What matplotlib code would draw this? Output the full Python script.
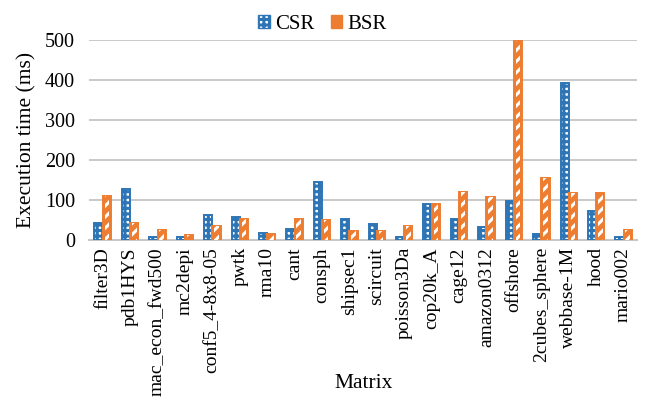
import matplotlib.pyplot as plt
import numpy as np
from matplotlib.patches import Patch

plt.rcParams["font.family"] = ["Liberation Serif", "DejaVu Serif"]
plt.rcParams["hatch.linewidth"] = 2.2

matrices = [
    "filter3D", "pdb1HYS", "mac_econ_fwd500", "mc2depi", "conf5_4-8x8-05",
    "pwtk", "rma10", "cant", "consph", "shipsec1", "scircuit", "poisson3Da",
    "cop20k_A", "cage12", "amazon0312", "offshore", "2cubes_sphere",
    "webbase-1M", "hood", "mario002",
]
csr = [43, 127, 8, 8, 62, 57, 17, 27, 146, 52, 39, 8, 90, 52, 33, 98, 14, 392, 73, 8]
bsr = [110, 42, 25, 12, 36, 52, 14, 52, 49, 22, 22, 36, 90, 119, 108, 497, 154, 117, 117, 25]

blue = "#2E75B6"
orange = "#ED7D31"

fig = plt.figure(figsize=(6.45, 4.09), dpi=100)
ax = fig.add_axes([0.138, 0.413, 0.850, 0.489])

x = np.arange(len(matrices))
w = 0.3

# CSR: blue ladder with white squares
ax.bar(x - w / 2, csr, w, facecolor="white", edgecolor=blue, hatch="+++",
       linewidth=1.4, zorder=3)
# BSR: orange with white diagonal dashes
ax.bar(x + w / 2, bsr, w, facecolor=orange, edgecolor=orange, linewidth=1.4, zorder=3)
ax.bar(x + w / 2, bsr, w * 0.55, facecolor="none", edgecolor="white", hatch="///",
       linewidth=0, zorder=4)

ax.set_ylim(0, 500)
ax.set_xlim(-0.5, len(matrices) - 0.5)
ax.set_yticks([0, 100, 200, 300, 400, 500])
ax.yaxis.grid(True, color="#C0C0C0", linewidth=1.2, zorder=0)
ax.set_axisbelow(True)
for s in ["top", "right", "left"]:
    ax.spines[s].set_visible(False)
ax.spines["bottom"].set_color("#C8C8C8")
ax.spines["bottom"].set_linewidth(1.5)
ax.tick_params(length=0, labelsize=14)
ax.set_xticks(x)
ax.set_xticklabels(matrices, rotation=90)
ax.tick_params(axis="x", pad=5)
ax.tick_params(axis="y", pad=10, labelsize=14.5)
ax.set_ylabel("Execution time (ms)", fontsize=15.5, labelpad=6)
ax.set_xlabel("Matrix", fontsize=15.5, va="center")
ax.xaxis.set_label_coords(0.5, -0.715)

handles = [
    Patch(facecolor="white", edgecolor=blue, hatch="+++", label="CSR"),
    Patch(facecolor=orange, edgecolor=orange, label="BSR"),
]
fig.legend(handles=handles, loc="upper center", bbox_to_anchor=(0.5, 1.01),
           ncol=2, frameon=False, fontsize=15, handlelength=0.55, handleheight=0.55,
           handletextpad=0.25, columnspacing=0.8)

fig.savefig("out.png", dpi=100)
